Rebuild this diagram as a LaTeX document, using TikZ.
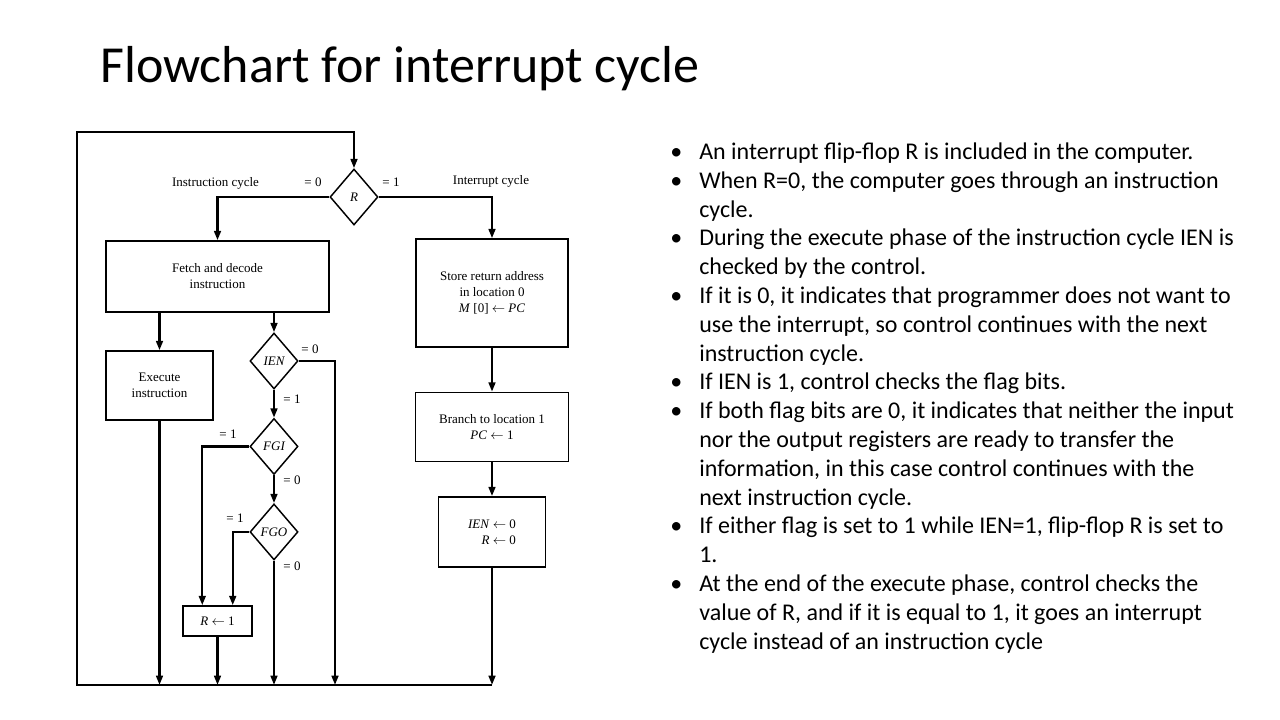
\documentclass[tikz,border=0pt]{standalone}
\usepackage{fontspec}
\setmainfont{Carlito}
\newfontfamily\bookfont{Liberation Serif}
\usetikzlibrary{positioning,arrows.meta,shapes.geometric}

\begin{document}
\begin{tikzpicture}[
    x=0.75pt,y=-0.75pt,
    box/.style={draw,line width=1.1pt,align=center,inner sep=1pt,font=\bookfont\fontsize{9.75}{12}\selectfont},
    test/.style={draw,diamond,line width=1.1pt,inner sep=0pt,minimum width=36pt,minimum height=42pt,font=\bookfont\itshape\fontsize{9.75}{12}\selectfont},
    lbl/.style={inner sep=0pt,font=\bookfont\fontsize{9.75}{12}\selectfont},
    flow/.style={line width=1.8pt,-{Triangle[length=7pt,width=5pt]}},
    node distance=21pt
  ]
  \useasboundingbox (0,0) rectangle (1280,720);

  \node[anchor=base west,inner sep=0pt,font=\fontsize{39}{47}\selectfont] (title) at (100,83) {Flowchart for interrupt cycle};

  % decisions and steps
  \node[test] (R) at (354,197) {R};
  \node[box,minimum width=167.25pt,minimum height=53.25pt] (fetch) at (217.5,276.5) {Fetch and decode\\instruction};
  \node[box,minimum width=80.25pt,minimum height=51.75pt] (exec) at (159.5,385.5) {Execute\\instruction};
  \node[test] (ien) at (274,361) {IEN};
  \node[test,below=of ien] (fgi) {FGI};
  \node[test,below=of fgi] (fgo) {FGO};
  \node[box,minimum width=51.75pt,minimum height=22.5pt] (rset) at (217.5,621) {\textit{R} $\leftarrow$ 1};
  \node[box,minimum width=114pt,minimum height=81pt] (store) at (492,293) {Store return address\\in location 0\\\textit{M} [0] $\leftarrow$ \textit{PC}};
  \node[box,minimum width=114.75pt,minimum height=51.75pt,below=33pt of store] (branch) {Branch to location 1\\\textit{PC} $\leftarrow$ 1};
  \node[box,align=right,minimum width=80.25pt,minimum height=52.5pt,below=25.5pt of branch] (clear) {\textit{IEN} $\leftarrow$ 0\\\textit{R} $\leftarrow$ 0};

  % labels
  \node[lbl] (icyc) at (215.5,183) {Instruction cycle};
  \node[lbl] (r0) at (313,182) {= 0};
  \node[lbl] (r1) at (391,182) {= 1};
  \node[lbl] (pcyc) at (491,181) {Interrupt cycle};
  \node[lbl] (ien0) at (310,349) {= 0};
  \node[lbl] (ien1) at (292,399) {= 1};
  \node[lbl] (fgi1) at (228,434) {= 1};
  \node[lbl] (fgi0) at (292,480) {= 0};
  \node[lbl] (fgo1) at (235,518) {= 1};
  \node[lbl] (fgo0) at (292,566) {= 0};

  \coordinate (bl) at (77,685);
  \coordinate (tl) at (77,132);
  \coordinate (br) at (492,685);
  \coordinate (ienout) at (335,685);
  \coordinate (rin1) at ([xshift=15pt]rset.north west);
  \coordinate (rin2) at ([xshift=-15pt]rset.north east);

  % connectors
  \draw[flow] (R.west) -| (fetch.north);
  \draw[flow] (R.east) -| (store.north);
  \draw[flow] (fetch.south -| exec.north) -- (exec.north);
  \draw[flow] (fetch.south -| ien.north) -- (ien.north);
  \draw[flow] (ien.south) -- (fgi.north);
  \draw[flow] (fgi.south) -- (fgo.north);
  \draw[flow] (ien.east) -| (ienout);
  \draw[flow] (fgi.west) -| (rin1);
  \draw[flow] (fgo.west) -| (rin2);
  \draw[flow] (store) -- (branch);
  \draw[flow] (branch) -- (clear);
  \draw[flow] (exec.south) -- (exec.south |- bl);
  \draw[flow] (rset.south) -- (rset.south |- bl);
  \draw[flow] (fgo.south) -- (fgo.south |- bl);
  \draw[flow] (clear.south) -- (br);
  \draw[flow] (br) -- (bl) -- (tl) -| (R.north);

  % notes
  \node[anchor=base west,inner sep=0pt,font=\fontsize{18}{21.6}\selectfont] (notes) at (670,159.5) {%
    \begin{tabular}[t]{@{}p{21.75pt}@{}l@{}}
    • & An interrupt flip-flop R is included in the computer.\\
    • & When R=0, the computer goes through an instruction\\
      & cycle.\\
    • & During the execute phase of the instruction cycle IEN is\\
      & checked by the control.\\
    • & If it is 0, it indicates that programmer does not want to\\
      & use the interrupt, so control continues with the next\\
      & instruction cycle.\\
    • & If IEN is 1, control checks the flag bits.\\
    • & If both flag bits are 0, it indicates that neither the input\\
      & nor the output registers are ready to transfer the\\
      & information, in this case control continues with the\\
      & next instruction cycle.\\
    • & If either flag is set to 1 while IEN=1, flip-flop R is set to\\
      & 1.\\
    • & At the end of the execute phase, control checks the\\
      & value of R, and if it is equal to 1, it goes an interrupt\\
      & cycle instead of an instruction cycle
    \end{tabular}};
\end{tikzpicture}
\end{document}
